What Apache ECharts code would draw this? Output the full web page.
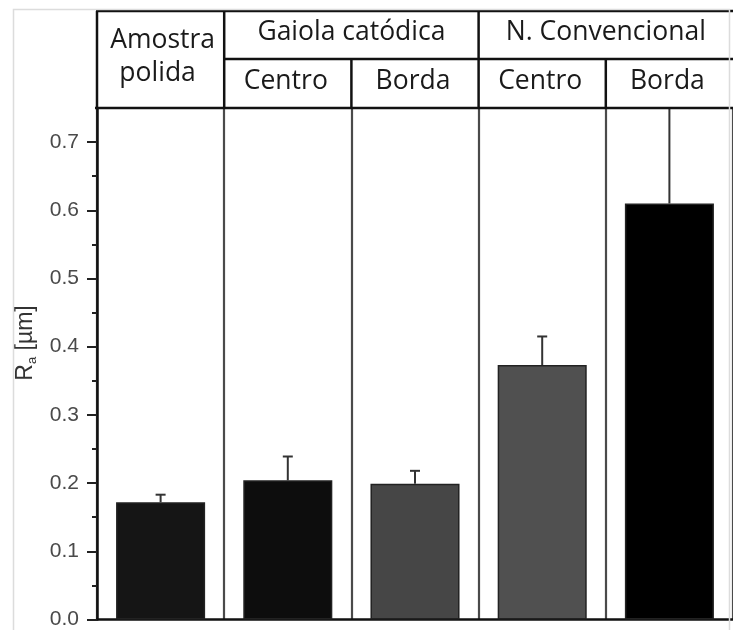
<!DOCTYPE html>
<html>
<head>
<meta charset="utf-8">
<script src="https://cdn.jsdelivr.net/npm/echarts@6/dist/echarts.min.js"></script>
<style>
html,body{margin:0;padding:0;background:#fff;}
#chart{width:733px;height:630px;}
</style>
</head>
<body>
<div id="chart"></div>
<script>
// ---- data ----
const categories = ['Amostra polida', 'Gaiola catódica – Centro', 'Gaiola catódica – Borda', 'N. Convencional – Centro', 'N. Convencional – Borda'];
const raValues = [0.172, 0.204, 0.199, 0.373, 0.610];
const raErrors = [0.011, 0.035, 0.019, 0.042, 0.25];
const yTickValues = [0, 0.1, 0.2, 0.3, 0.4, 0.5, 0.6, 0.7];
const yMinorTickValues = [0.05, 0.15, 0.25, 0.35, 0.45, 0.55, 0.65];
const headerGroups = [
  { label: 'Amostra\npolida', first: 0, last: 0 },
  { label: 'Gaiola catódica', first: 1, last: 2 },
  { label: 'N. Convencional', first: 3, last: 4 }
];
const subLabels = ['', 'Centro', 'Borda', 'Centro', 'Borda'];

// ---- styles ----
const barColors = ['#151515', '#0d0d0d', '#464646', '#505050', '#000000'];
const headFont = '"Open Sans", Lato, sans-serif';
const headSize = 26.5;

const chart = echarts.init(document.getElementById('chart'), null, { renderer: 'canvas' });

const baseOption = {
  animation: false,
  backgroundColor: '#fff',
  grid: { left: 97, right: -4, top: 108, bottom: 10, containLabel: false },
  xAxis: {
    type: 'category',
    data: categories,
    boundaryGap: true,
    axisLine: { show: true, lineStyle: { color: '#111', width: 2.5 } },
    axisTick: { show: false, interval: 0 },
    axisLabel: { show: false, interval: 0 },
    splitLine: { show: true, interval: 0, lineStyle: { color: '#4a4a4a', width: 2.2 } }
  },
  yAxis: [
    {
      type: 'value', min: 0, max: 0.75, position: 'left',
      axisLine: { show: true, lineStyle: { color: '#111', width: 2.5 } },
      axisTick: { show: true, length: 10, customValues: yTickValues, lineStyle: { color: '#222', width: 2 } },
      axisLabel: {
        show: true, customValues: yTickValues, margin: 18,
        formatter: v => v.toFixed(1),
        fontFamily: '"Liberation Sans", Arial, sans-serif', fontSize: 21, color: '#4a4a4a'
      },
      splitLine: { show: false }
    },
    {
      type: 'value', min: 0, max: 0.75, position: 'left', offset: 0,
      axisLine: { show: false },
      axisTick: { show: true, length: 5, customValues: yMinorTickValues, lineStyle: { color: '#222', width: 2 } },
      axisLabel: { show: false },
      splitLine: { show: false }
    }
  ],
  series: [
    {
      type: 'bar',
      data: raValues.map((v, i) => ({ value: v, itemStyle: { color: barColors[i] } })),
      barWidth: '70%',
      itemStyle: { borderColor: '#222', borderWidth: 1.5 },
      z: 2
    },
    {
      type: 'custom',
      data: raValues.map((v, i) => [i, v, raErrors[i]]),
      z: 3,
      renderItem: function (params, api) {
        const i = api.value(0), v = api.value(1), e = api.value(2);
        const b = api.coord([i, v]);
        const t = api.coord([i, v + e]);
        const hw = 5;
        const st = { stroke: '#333', lineWidth: 2 };
        return {
          type: 'group',
          children: [
            { type: 'line', shape: { x1: b[0], y1: b[1], x2: t[0], y2: t[1] }, style: st },
            { type: 'line', shape: { x1: t[0] - hw, y1: t[1], x2: t[0] + hw, y2: t[1] }, style: st }
          ]
        };
      }
    }
  ]
};
chart.setOption(baseOption);

// ---- header table built from the category scale ----
const c0 = chart.convertToPixel({ xAxisIndex: 0 }, 0);
const c1 = chart.convertToPixel({ xAxisIndex: 0 }, 1);
const band = c1 - c0;
const edgeL = i => chart.convertToPixel({ xAxisIndex: 0 }, i) - band / 2;
const edgeR = i => chart.convertToPixel({ xAxisIndex: 0 }, i) + band / 2;
const yTopPix = chart.convertToPixel({ yAxisIndex: 0 }, 0.75);
const W = 733;
const rowTop = 11, rowMid = 59;
const lineSt = { stroke: '#111', lineWidth: 2.5 };
const txt = (s, x, y) => ({ type: 'text', z: 102, x: x, y: y, style: { text: s, font: headSize + 'px ' + headFont, fill: '#1a1a1a', align: 'center', verticalAlign: 'middle' } });
const g = [];
g.push({ type: 'rect', z: 100, shape: { x: 0, y: 0, width: W, height: yTopPix }, style: { fill: '#fff' } });
// horizontal lines
g.push({ type: 'line', z: 101, shape: { x1: edgeL(0) - 1, y1: rowTop, x2: W, y2: rowTop }, style: lineSt });
g.push({ type: 'line', z: 101, shape: { x1: edgeL(1), y1: rowMid, x2: W, y2: rowMid }, style: lineSt });
g.push({ type: 'line', z: 101, shape: { x1: edgeL(0) - 2, y1: yTopPix, x2: W, y2: yTopPix }, style: lineSt });
// vertical lines
headerGroups.forEach(hg => {
  g.push({ type: 'line', z: 101, shape: { x1: edgeL(hg.first), y1: rowTop, x2: edgeL(hg.first), y2: yTopPix }, style: lineSt });
  for (let k = hg.first + 1; k <= hg.last; k++) {
    g.push({ type: 'line', z: 101, shape: { x1: edgeL(k), y1: rowMid, x2: edgeL(k), y2: yTopPix }, style: lineSt });
  }
});
// group labels
headerGroups.forEach(hg => {
  const cx = (edgeL(hg.first) + edgeR(hg.last)) / 2;
  if (hg.last === hg.first) {
    const lines = hg.label.split('\n');
    g.push(txt(lines[0], cx + 2, 40));
    g.push(txt(lines[1], cx - 3, 73));
  } else {
    g.push(txt(hg.label, cx, 32));
  }
});
subLabels.forEach((s, i) => {
  if (!s) return;
  const cx = chart.convertToPixel({ xAxisIndex: 0 }, i);
  g.push(txt(s, cx - 2, 81));
});
// y axis name
g.push({
  type: 'text', z: 102, x: 26, y: 343, rotation: Math.PI / 2,
  style: {
    text: '{r|R}{s|a}{r| [µm]}', align: 'center', verticalAlign: 'middle',
    rich: {
      r: { fontFamily: '"Liberation Sans", Arial, sans-serif', fontSize: 23, fill: '#333', color: '#333' },
      s: { fontFamily: '"Liberation Sans", Arial, sans-serif', fontSize: 13, fill: '#333', color: '#333', padding: [12, 0, 0, 0] }
    }
  }
});
// light outer frame
g.push({ type: 'rect', z: 103, shape: { x: 13.5, y: 9.5, width: 716, height: 640 }, style: { fill: 'none', stroke: '#dcdcdc', lineWidth: 1.5 } });

chart.setOption({ graphic: { elements: g } });
</script>
</body>
</html>
